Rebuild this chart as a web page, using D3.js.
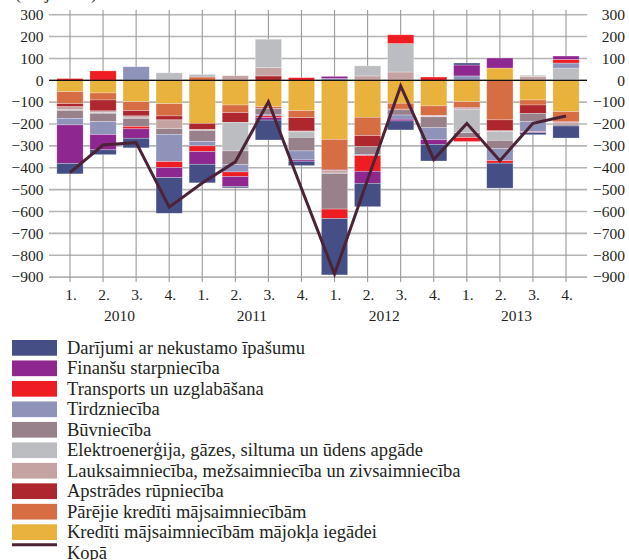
<!DOCTYPE html>
<html>
<head>
<meta charset="utf-8">
<script src="https://cdn.jsdelivr.net/npm/d3@7"></script>
<style>
  html, body { margin: 0; padding: 0; background: #ffffff; }
  svg { display: block; }
  text { font-family: "Liberation Serif", "DejaVu Serif", serif; fill: #231f20; }
</style>
</head>
<body>
<svg id="chart" width="629" height="560"></svg>
<script>
// ---- data ----
const quarters = ["2010Q1","2010Q2","2010Q3","2010Q4","2011Q1","2011Q2","2011Q3","2011Q4",
                  "2012Q1","2012Q2","2012Q3","2012Q4","2013Q1","2013Q2","2013Q3","2013Q4"];
const quarterLabels = ["1.","2.","3.","4.","1.","2.","3.","4.","1.","2.","3.","4.","1.","2.","3.","4."];
const years = ["2010","2011","2012","2013"];
const yTicks = [300,200,100,0,-100,-200,-300,-400,-500,-600,-700,-800,-900];

const realEstate = [-48,-22,-44,-163,-85,-6,-91,-20,-258,-107,-41,-76,9,-114,-10,-55];
const finance    = [-176,-70,-43,-46,-58,-46,-12,-6,10,-55,-8,-21,50,46,-2,15];
const transport  = [8,43,-11,-27,-26,-21,-7,12,-43,-72,40,15,-18,-11,-2,17];
const trade      = [-30,-59,62,-125,-20,-34,-5,-41,8,-5,-19,-55,20,-55,-46,23];
const construction=[-36,-38,-37,-26,-50,-62,-28,-62,-163,-36,-24,-50,-22,-38,-38,-8];
const electricity= [-3,-3,-2,34,12,-131,130,-25,-2,46,130,-2,-105,-41,5,56];
const agriculture= [-14,-8,-9,-40,-6,21,38,-4,-12,20,38,-3,-8,-3,18,-9];
const manufacturing=[-14,-50,-24,-18,-27,-44,20,-61,-5,-50,-3,-2,-3,-50,-38,-3];
const otherHH    = [-55,-32,-41,-56,15,-35,-10,-32,-137,-84,-27,-43,-26,-181,-23,-46];
const housing    = [-52,-58,-98,-107,-197,-113,-120,-139,-270,-169,-105,-117,-98,56,-90,-143];
const total      = [-422,-296,-285,-580,-470,-373,-98,-495,-886,-455,-26,-362,-197,-368,-197,-163];

const seriesNames = [
  "Darījumi ar nekustamo īpašumu",
  "Finanšu starpniecība",
  "Transports un uzglabāšana",
  "Tirdzniecība",
  "Būvniecība",
  "Elektroenerģija, gāzes, siltuma un ūdens apgāde",
  "Lauksaimniecība, mežsaimniecība un zivsaimniecība",
  "Apstrādes rūpniecība",
  "Pārējie kredīti mājsaimniecībām",
  "Kredīti mājsaimniecībām mājokļa iegādei"
];
const totalName = "Kopā";
const unitLabel = "(milj. euro)";

// ---- styles ----
const colors = ["#454e85","#8e278f","#ee1d24","#8f93ba","#98818a","#bcbdc0","#c6a3a3","#ae272e","#d76d43","#e8b23d"];
const lineColor = "#4b2236";

const seriesValues = [realEstate, finance, transport, trade, construction, electricity, agriculture, manufacturing, otherHH, housing];

const table = quarters.map((q, i) => {
  const row = { q: q };
  seriesNames.forEach((n, k) => { row[n] = seriesValues[k][i]; });
  return row;
});

const stackKeys = seriesNames.slice().reverse(); // housing first from the baseline
const stacked = d3.stack().keys(stackKeys).offset(d3.stackOffsetDiverging)(table);

const svg = d3.select("#chart");
const left = 49, right = 587;

const x = d3.scaleBand().domain(quarters).range([left, right]).paddingInner(0.205).paddingOuter(0.237);
const y = d3.scaleLinear().domain([-900, 300]).range([277.1, 14.7]);

// unit label (cut at top)
svg.append("text").attr("x", 15).attr("y", -1).attr("font-size", 18).text(unitLabel);

// horizontal gridlines
svg.append("g").selectAll("line").data(yTicks).join("line")
  .attr("x1", left).attr("x2", right)
  .attr("y1", d => y(d)).attr("y2", d => y(d))
  .attr("stroke", "#b4b4b4").attr("stroke-width", 1.6);

// vertical gridlines at bar centres
svg.append("g").selectAll("line").data(quarters).join("line")
  .attr("x1", d => x(d) + x.bandwidth()/2).attr("x2", d => x(d) + x.bandwidth()/2)
  .attr("y1", 10).attr("y2", 282)
  .attr("stroke", "#9a9a9a").attr("stroke-width", 1.1);

// y tick labels (left & right)
const fmt = d => d < 0 ? "\u2212" + Math.abs(d) : String(d);
svg.append("g").selectAll("text").data(yTicks).join("text")
  .attr("x", 43.5).attr("y", d => y(d)).attr("dy", "0.34em")
  .attr("text-anchor", "end").attr("font-size", 15.5).text(fmt);
svg.append("g").selectAll("text").data(yTicks).join("text")
  .attr("x", 625).attr("y", d => y(d)).attr("dy", "0.34em")
  .attr("text-anchor", "end").attr("font-size", 15.5).text(fmt);

// bars
svg.append("g").selectAll("g").data(stacked).join("g")
  .attr("fill", d => colors[seriesNames.indexOf(d.key)])
  .selectAll("rect").data(d => d).join("rect")
  .attr("x", d => x(d.data.q))
  .attr("width", x.bandwidth())
  .attr("y", d => y(Math.max(d[0], d[1])))
  .attr("height", d => Math.abs(y(d[0]) - y(d[1])))
  .attr("stroke", "rgba(255,255,255,0.45)").attr("stroke-width", 0.6);

// zero line
svg.append("line").attr("x1", left).attr("x2", right)
  .attr("y1", y(0)).attr("y2", y(0)).attr("stroke", "#111").attr("stroke-width", 1.2);

// total line
svg.append("path").datum(total)
  .attr("fill", "none").attr("stroke", lineColor).attr("stroke-width", 3)
  .attr("stroke-linejoin", "miter")
  .attr("d", d3.line().x((d, i) => x(quarters[i]) + x.bandwidth()/2).y(d => y(d)));

// x labels
svg.append("g").selectAll("text").data(quarters).join("text")
  .attr("x", d => x(d) + x.bandwidth()/2 + 1).attr("y", 300)
  .attr("text-anchor", "middle").attr("font-size", 15.5)
  .text((d, i) => quarterLabels[i]);
svg.append("g").selectAll("text").data(years).join("text")
  .attr("x", (d, i) => (x(quarters[i*4+1]) + x(quarters[i*4+2]))/2 + x.bandwidth()/2)
  .attr("y", 320.5)
  .attr("text-anchor", "middle").attr("font-size", 15.5)
  .text(d => d);

// legend
const lg = svg.append("g");
seriesNames.forEach((n, i) => {
  const top = 340 + i * 20.48;
  lg.append("rect").attr("x", 12).attr("y", top).attr("width", 45).attr("height", 15.7).attr("fill", colors[i]);
  lg.append("text").attr("x", 67).attr("y", top + 14).attr("font-size", 18.5).text(n);
});
const lt = 340 + 10 * 20.48;
lg.append("line").attr("x1", 12).attr("x2", 57).attr("y1", lt).attr("y2", lt)
  .attr("stroke", lineColor).attr("stroke-width", 3);
lg.append("text").attr("x", 67).attr("y", lt + 14).attr("font-size", 18.5).text(totalName);
</script>
</body>
</html>
